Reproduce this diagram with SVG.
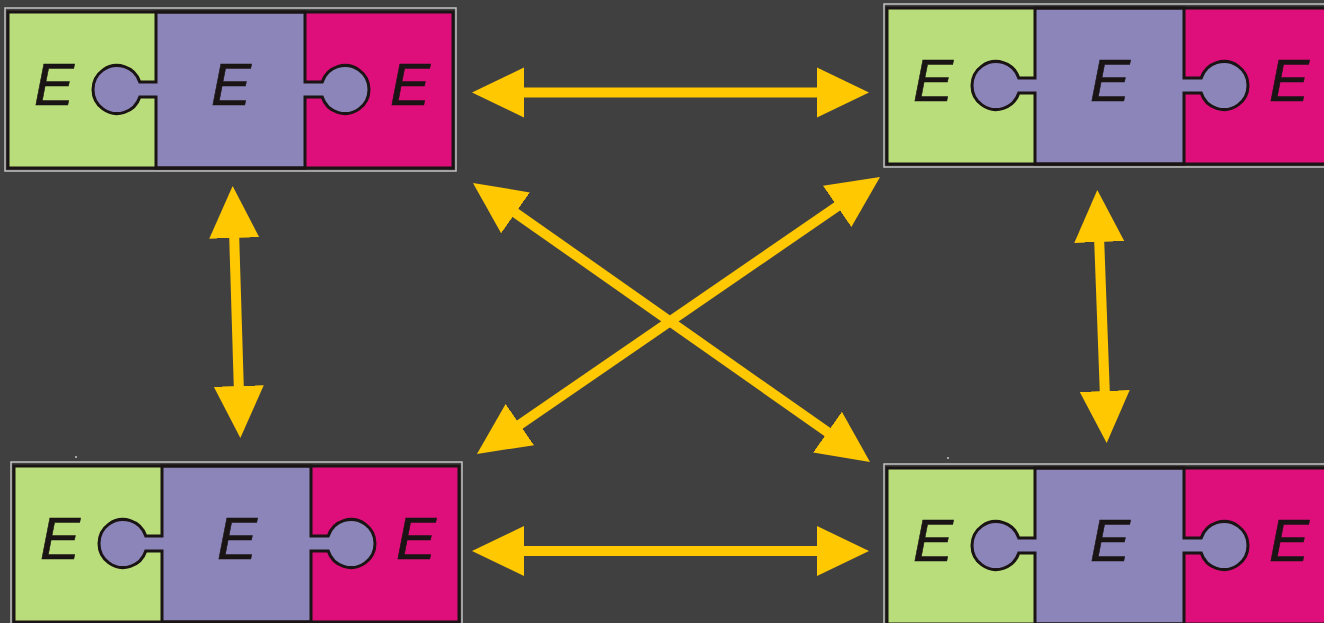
<svg xmlns="http://www.w3.org/2000/svg" width="1324" height="623" viewBox="0 0 1324 623">
<style>
.bg{fill:#404040}
.frame{fill:none;stroke:#c4c4c4;stroke-width:1.5}
.g{fill:#b9dd7b}
.m{fill:#de0f7a}
.p{fill:#8c85b9;stroke:#1a1414;stroke-width:3;stroke-linejoin:miter}
.border{fill:none;stroke:#1a1414;stroke-width:3}
.e{font-family:"Liberation Sans",Arial,sans-serif;font-style:italic;font-size:60px;fill:#1a1414;stroke:#1a1414;stroke-width:0.6;text-anchor:middle}
.arrow{stroke:#ffc800;stroke-width:10;fill:none;marker-start:url(#head);marker-end:url(#head)}
</style>
<defs>
<marker id="head" markerUnits="userSpaceOnUse" markerWidth="53" markerHeight="52" viewBox="0 -26 53 52" refX="1" refY="0" orient="auto-start-reverse">
<path d="M0,-25 L52,0 L0,25 Z" fill="#ffc800"/>
</marker>
<g id="tile">
<rect x="-3" y="-4" width="451" height="163" class="frame"/>
<rect x="0" y="0" width="148" height="156" class="g"/>
<rect x="297" y="0" width="148" height="156" class="m"/>
<path class="p" d="M148,0 H297 V70 H314.2 A24,24 0 1,1 314.2,85 H297 V156 H148 V85 H131.8 A24,24 0 1,1 131.8,70 H148 Z"/>
<rect x="0" y="0" width="445" height="156" class="border"/>
<text class="e" x="46" y="93">E</text>
<text class="e" x="223" y="93">E</text>
<text class="e" x="402" y="93">E</text>
</g>
</defs>
<rect class="bg" x="0" y="0" width="1324" height="623"/>
<g id="node-top-left"><use href="#tile" x="8" y="12"/></g>
<g id="node-top-right"><use href="#tile" x="887" y="8"/></g>
<g id="node-bottom-left"><use href="#tile" x="14" y="466"/></g>
<g id="node-bottom-right"><use href="#tile" x="887" y="468"/></g>
<circle cx="76" cy="457" r="1" fill="#c8c8c8"/>
<circle cx="948" cy="458" r="1" fill="#c8c8c8"/>
<g id="connectors">
<line class="arrow" x1="523" y1="92.5" x2="818" y2="92.5"/>
<line class="arrow" x1="523" y1="551" x2="818" y2="551"/>
<line class="arrow" x1="234.2" y1="237" x2="238.8" y2="387"/>
<line class="arrow" x1="1099.2" y1="241" x2="1104.8" y2="392"/>
<line class="arrow" x1="514.7" y1="212.3" x2="828.3" y2="432.7"/>
<line class="arrow" x1="519" y1="425.1" x2="838" y2="205.9"/>
</g>
</svg>
